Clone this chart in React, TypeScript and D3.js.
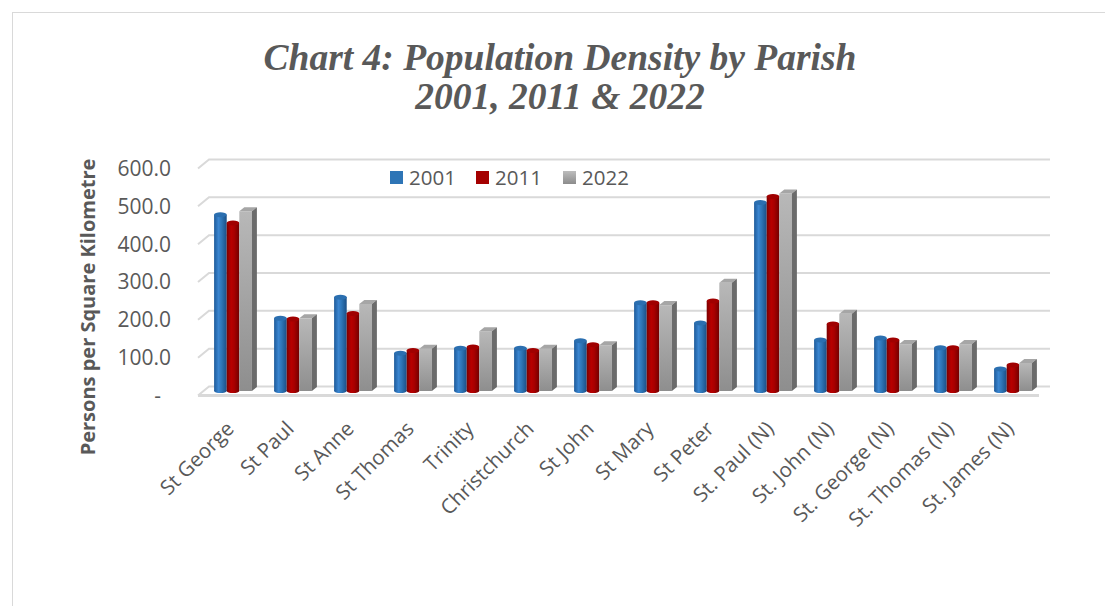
import React from 'react';
import * as d3 from 'd3';

// Parishes in chart order
const parishes = [
  'St George', 'St Paul', 'St Anne', 'St Thomas', 'Trinity', 'Christchurch', 'St John',
  'St Mary', 'St Peter', 'St. Paul (N)', 'St. John (N)', 'St. George (N)', 'St. Thomas (N)', 'St. James (N)',
];

const years = ['2001', '2011', '2022'];

// Persons per square kilometre
const density2001 = [466, 192, 248, 100, 113, 113, 133, 233, 180, 498, 135, 140, 114, 58];
const density2011 = [444, 190, 205, 107, 116, 107, 122, 233, 238, 514, 177, 135, 114, 69];
const density2022 = [475, 192, 230, 112, 158, 112, 121, 227, 286, 522, 204, 124, 124, 74];

const yTicks = [0, 100, 200, 300, 400, 500, 600];

const seriesValues = [density2001, density2011, density2022];

const textColor = '#595959';
const gridColor = '#d9d9d9';
const sans = '"Open Sans", "DejaVu Sans", sans-serif';

// 3D offsets
const wallDx = 11;
const wallDy = 9;
const boxDx = 5;
const boxDy = 4;

const App: React.FC = () => {
  const width = 1105;
  const height = 606;

  // back-wall value scale
  const y = d3.scaleLinear().domain([0, 600]).range([386.5, 159.5]);
  // bars stand half way into the floor
  const barY = (v: number) => y(v) + wallDy / 2;

  const x0 = d3.scaleBand<string>()
    .domain(parishes)
    .range([203, 1043])
    .paddingInner(0.37)
    .paddingOuter(0.185);

  const x1 = d3.scaleBand<string>()
    .domain(years)
    .range([0, x0.bandwidth()])
    .padding(0);

  const bw = x1.bandwidth();
  const gridLeft = 198;
  const gridRight = 1050;

  return (
    <svg width={width} height={height} style={{ position: 'absolute', left: 0, top: 0, background: '#fff' }}>
      <defs>
        <linearGradient id="blueCyl" x1="0" x2="1" y1="0" y2="0">
          <stop offset="0%" stopColor="#1d5a99" />
          <stop offset="35%" stopColor="#3a85d0" />
          <stop offset="60%" stopColor="#2e75b6" />
          <stop offset="100%" stopColor="#1b4f86" />
        </linearGradient>
        <linearGradient id="redCyl" x1="0" x2="1" y1="0" y2="0">
          <stop offset="0%" stopColor="#7a0000" />
          <stop offset="35%" stopColor="#b80000" />
          <stop offset="60%" stopColor="#a80000" />
          <stop offset="100%" stopColor="#720000" />
        </linearGradient>
        <linearGradient id="grayFront" x1="0" x2="0" y1="0" y2="1">
          <stop offset="0%" stopColor="#b8b8b8" />
          <stop offset="100%" stopColor="#8e8e8e" />
        </linearGradient>
        <linearGradient id="graySwatch" x1="0" x2="0" y1="0" y2="1">
          <stop offset="0%" stopColor="#bdbdbd" />
          <stop offset="100%" stopColor="#8c8c8c" />
        </linearGradient>
      </defs>

      {/* outer frame */}
      <rect x={12.5} y={12.5} width={1110} height={610} fill="none" stroke={gridColor} strokeWidth={1} />

      {/* title */}
      <text
        x={560}
        y={70}
        textAnchor="middle"
        fontFamily='"Liberation Serif", "Times New Roman", serif'
        fontStyle="italic"
        fontWeight="bold"
        fontSize={37.5}
        fill={textColor}
      >
        Chart 4: Population Density by Parish
      </text>
      <text
        x={560}
        y={109}
        textAnchor="middle"
        fontFamily='"Liberation Serif", "Times New Roman", serif'
        fontStyle="italic"
        fontWeight="bold"
        fontSize={37.5}
        fill={textColor}
      >
        2001, 2011 &amp; 2022
      </text>

      {/* gridlines with perspective stub */}
      {yTicks.map(t => (
        <path
          key={`g${t}`}
          d={`M${gridLeft},${y(t) + wallDy} L${gridLeft + wallDx},${y(t)} L${gridRight},${y(t)}`}
          fill="none"
          stroke={gridColor}
          strokeWidth={2}
        />
      ))}
      {/* floor front edge */}
      <line
        x1={gridLeft}
        x2={gridRight - wallDx}
        y1={y(0) + wallDy}
        y2={y(0) + wallDy}
        stroke={gridColor}
        strokeWidth={3}
      />

      {/* y tick labels */}
      {yTicks.map(t => (
        <text
          key={`t${t}`}
          x={t === 0 ? 161 : 171}
          y={y(t) + wallDy}
          dy="0.35em"
          textAnchor="end"
          fontFamily={sans}
          fontSize={21}
          fill={textColor}
        >
          {t === 0 ? '-' : d3.format('.1f')(t)}
        </text>
      ))}

      {/* y axis title */}
      <text
        transform="translate(95,307) rotate(-90)"
        textAnchor="middle"
        fontFamily={sans}
        fontWeight="bold"
        fontSize={20}
        fill={textColor}
      >
        Persons per Square Kilometre
      </text>

      {/* bars */}
      {parishes.map((p, i) => (
        <g key={p} transform={`translate(${x0(p)},0)`}>
          {years.map((yr, s) => {
            const v = seriesValues[s][i];
            const bx = x1(yr) as number;
            const top = barY(v);
            const base = barY(0);
            if (s === 2) {
              return (
                <g key={yr}>
                  <rect x={bx} y={top} width={bw} height={base - top} fill="url(#grayFront)" />
                  <polygon
                    points={`${bx},${top} ${bx + boxDx},${top - boxDy} ${bx + bw + boxDx},${top - boxDy} ${bx + bw},${top}`}
                    fill="#a6a6a6"
                  />
                  <polygon
                    points={`${bx + bw},${top} ${bx + bw + boxDx},${top - boxDy} ${bx + bw + boxDx},${base - boxDy} ${bx + bw},${base}`}
                    fill="#6b6b6b"
                  />
                </g>
              );
            }
            const fill = s === 0 ? 'url(#blueCyl)' : 'url(#redCyl)';
            const cap = s === 0 ? '#2b6fb0' : '#a00000';
            return (
              <g key={yr}>
                <rect x={bx} y={top} width={bw} height={base - top} fill={fill} />
                <ellipse cx={bx + bw / 2} cy={base} rx={bw / 2} ry={2} fill={fill} />
                <ellipse cx={bx + bw / 2} cy={top} rx={bw / 2} ry={2.5} fill={cap} />
              </g>
            );
          })}
        </g>
      ))}

      {/* x labels */}
      {parishes.map(p => (
        <text
          key={`l${p}`}
          transform={`translate(${(x0(p) as number) + x0.bandwidth() / 2 - 3},425) rotate(-45)`}
          dy="0.35em"
          textAnchor="end"
          fontFamily={sans}
          fontSize={20.5}
          fill={textColor}
        >
          {p}
        </text>
      ))}

      {/* legend */}
      {years.map((yr, s) => {
        const lx = [390, 476, 563][s];
        const colours = ['#2e75b6', '#a50000', 'url(#graySwatch)'];
        return (
          <g key={`lg${yr}`}>
            <rect x={lx} y={171} width={13} height={13} fill={colours[s]} />
            <text x={lx + 19} y={185} fontFamily={sans} fontSize={20.5} fill={textColor}>
              {yr}
            </text>
          </g>
        );
      })}
    </svg>
  );
};

export default App;
